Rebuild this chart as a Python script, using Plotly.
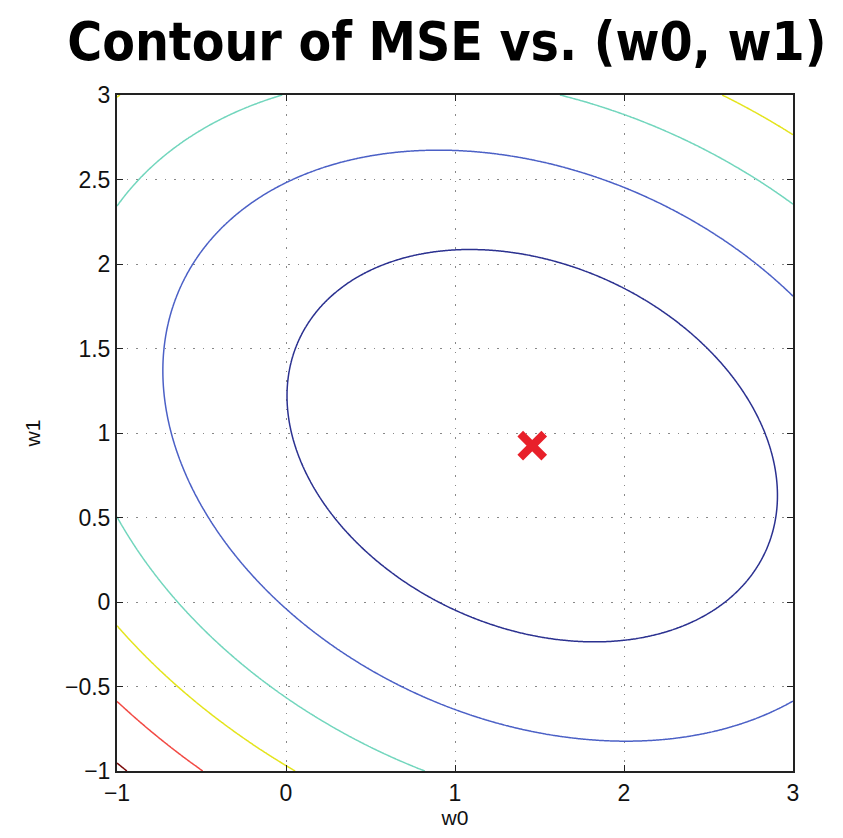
import numpy as np
import plotly.graph_objects as go

# MSE surface parameters
w_opt = [1.457, 0.925]          # minimum of the MSE
mean_x = 0.317                  # cross term of the quadratic
mean_x2 = 1.5625                # w1^2 coefficient
mse_min = 0.53
levels = [2.5, 5.0, 7.5, 10.0, 12.5, 15.0]
level_colors = ["#2b3190", "#4b60c6", "#72d6bd", "#e4e41c", "#f24a44", "#7a0a0a"]

x_ticks = [-1, 0, 1, 2, 3]
y_ticks = [-1, -0.5, 0, 0.5, 1, 1.5, 2, 2.5, 3]

w0 = np.linspace(-1, 3, 401)
w1 = np.linspace(-1, 3, 401)
W0, W1 = np.meshgrid(w0, w1)
d0 = W0 - w_opt[0]
d1 = W1 - w_opt[1]
Z = mse_min + d0**2 + 2 * mean_x * d0 * d1 + mean_x2 * d1**2

fig = go.Figure()
for lv, col in zip(levels, level_colors):
    fig.add_trace(go.Contour(
        x=w0, y=w1, z=Z,
        contours=dict(start=lv, end=lv, size=1, coloring="none"),
        line=dict(color=col, width=1.5),
        showscale=False, hoverinfo="skip",
    ))

fig.add_trace(go.Scatter(
    x=[w_opt[0]], y=[w_opt[1]], mode="markers",
    marker=dict(symbol="x-thin", size=24, line=dict(color="#e8202a", width=8)),
    showlegend=False,
))

def fmt(v):
    s = ("%g" % v)
    return s.replace("-", "\u2212")

axis_common = dict(
    showline=True, linecolor="#222", linewidth=2, mirror="ticks",
    ticks="inside", ticklen=6, tickcolor="#222",
    showgrid=True, gridcolor="#888", griddash="1.5px,8px", gridwidth=1,
    zeroline=False, range=[-1, 3],
    tickfont=dict(family="Liberation Sans, Arial, sans-serif", size=23, color="#111"),
)

fig.update_layout(
    width=843, height=838,
    margin=dict(l=117, r=50, t=95, b=65),
    paper_bgcolor="white", plot_bgcolor="white",
    showlegend=False,
    title=dict(
        text="<b>Contour of MSE vs. (w0, w1)</b>",
        x=0.53, xanchor="center", y=0.95, yanchor="middle",
        font=dict(family="DejaVu Sans Condensed, Liberation Sans Narrow, sans-serif", size=53, color="black"),
    ),
    xaxis=dict(axis_common, tickvals=x_ticks, ticktext=[fmt(v) for v in x_ticks],
               title=dict(text="w0", standoff=6,
                          font=dict(family="Liberation Sans, Arial, sans-serif", size=21, color="#111"))),
    yaxis=dict(axis_common, tickvals=y_ticks, ticktext=[fmt(v) for v in y_ticks],
               title=dict(text="w1", standoff=19,
                          font=dict(family="Liberation Sans, Arial, sans-serif", size=21, color="#111"))),
)

fig.write_html("out.html")
